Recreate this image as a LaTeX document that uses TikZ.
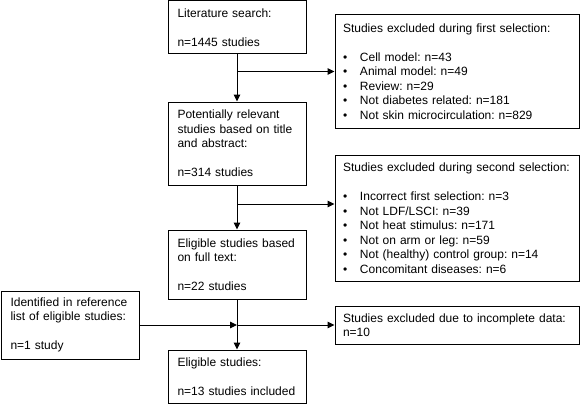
\documentclass[tikz,border=0pt]{standalone}
\usepackage{fontspec}
\setmainfont{Liberation Sans}
\usetikzlibrary{arrows.meta,positioning}
\frenchspacing
\newcommand{\bul}{\makebox[17pt][l]{\textbullet}}

\begin{document}
\begin{tikzpicture}[x=1pt, y=-1pt,
  box/.style = {draw, line width=1pt, rectangle, align=left, inner xsep=9.5pt, inner ysep=0pt, font=\fontsize{12}{14.5}\selectfont},
  mainbox/.style = {box, text width=119pt},
  sidebox/.style = {box, inner xsep=8pt, text width=228pt},
  arr/.style = {line width=1pt, -{Triangle[length=7pt,width=6.5pt]}}]
\useasboundingbox (0,0) rectangle (581,404);
% main column
\node[mainbox, minimum height=53pt] (search) at (237,27.5) {Literature search:\\[14.5pt] n=1445 studies};
\node[mainbox, minimum height=83pt] (relevant) at (237,143.5) {Potentially relevant\\ studies based on title\\ and abstract:\\[14.5pt] n=314 studies};
\node[mainbox, minimum height=69pt] (fulltext) at (237,264.5) {Eligible studies based\\ on full text:\\[14.5pt] n=22 studies};
\node[mainbox, minimum height=53pt] (included) at (237,376.5) {Eligible studies:\\[14.5pt] n=13 studies included};
\node[mainbox, minimum height=68pt] (reflist) at (70,325) {Identified in reference\\ list of eligible studies:\\[14.5pt] n=1 study};
% excluded studies
\node[sidebox, minimum height=113pt] (excl1) at (457,71.5) {Studies excluded during first selection:\\[14.5pt]
  \bul Cell model: n=43\\
  \bul Animal model: n=49\\
  \bul Review: n=29\\
  \bul Not diabetes related: n=181\\
  \bul Not skin microcirculation: n=829};
\node[sidebox, minimum height=126pt] (excl2) at (457,218) {Studies excluded during second selection:\\[14.5pt]
  \bul Incorrect first selection: n=3\\
  \bul Not LDF/LSCI: n=39\\
  \bul Not heat stimulus: n=171\\
  \bul Not on arm or leg: n=59\\
  \bul Not (healthy) control group: n=14\\
  \bul Concomitant diseases: n=6};
\node[sidebox, minimum height=38pt] (excl3) at (457,325) {Studies excluded due to incomplete data:\\ n=10};
% arrows
\coordinate (split2) at (237,204);
\draw[arr] (search) -- (relevant);
\draw[arr] (search.south |- excl1.west) -- (excl1.west);
\draw[arr] (relevant) -- (fulltext);
\draw[arr] (split2) -- (split2 -| excl2.west);
\draw[arr] (fulltext) -- (included);
\draw[arr] (reflist) -- (reflist -| included.north);
\draw[arr] (fulltext.south |- excl3.west) -- (excl3.west);
\end{tikzpicture}
\end{document}
